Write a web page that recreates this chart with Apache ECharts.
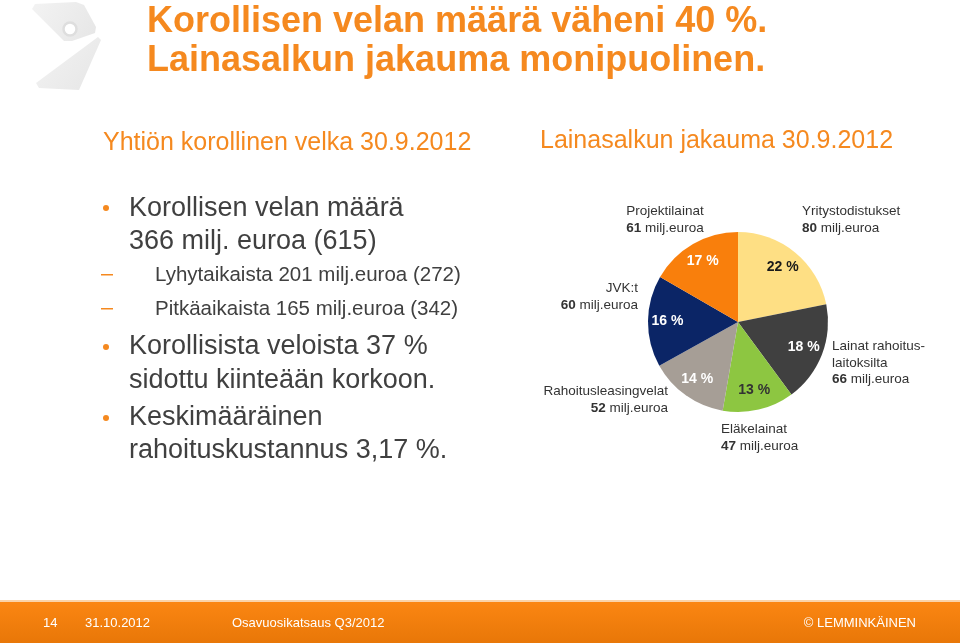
<!DOCTYPE html>
<html><head><meta charset="utf-8">
<script src="https://cdn.jsdelivr.net/npm/echarts@6/dist/echarts.min.js"></script>
<style>html,body{margin:0;padding:0;background:#fff}#c{width:960px;height:643px}</style>
</head><body><div id="c"></div>
<script>
// Data
const categories = ['Yritystodistukset', 'Lainat rahoitus-\nlaitoksilta', 'Eläkelainat', 'Rahoitusleasingvelat', 'JVK:t', 'Projektilainat'];
const values = [80, 66, 47, 52, 60, 61];
const unit = 'milj.euroa';
const sliceColors = ['#FEDF84', '#404040', '#8DC641', '#A69E96', '#0B2566', '#F97F0C'];
const pctColors = ['#1a1a1a', '#ffffff', '#333333', '#ffffff', '#ffffff', '#ffffff'];
const titleLines = ['Korollisen velan määrä väheni 40 %.', 'Lainasalkun jakauma monipuolinen.'];
const leftTitle = 'Yhtiön korollinen velka 30.9.2012';
const rightTitle = 'Lainasalkun jakauma 30.9.2012';
const footerTexts = ['14', '31.10.2012', 'Osavuosikatsaus Q3/2012', '© LEMMINKÄINEN'];

// Layout (styling only)
const labelPos = [
  {x: 802, y: 220, align: 'left'},
  {x: 832, y: 363, align: 'left'},
  {x: 721, y: 438, align: 'left'},
  {x: 668, y: 400, align: 'right'},
  {x: 638, y: 297, align: 'right'},
  {x: 665, y: 220, align: 'center'}
];
const C = [738, 322], R = 90;
const total = values.reduce((a, b) => a + b, 0);

const chart = echarts.init(document.getElementById('c'), null, {renderer: 'canvas'});
const txt = '#404040';
const font = 'Liberation Sans, Arial, sans-serif';
const orange = '#F5891F';

const logoFill = new echarts.graphic.LinearGradient(0, 0, 1, 1, [{offset: 0, color: '#F3F3F3'}, {offset: 1, color: '#E6E6E6'}]);
const graphics = [
  {type: 'polygon', shape: {points: [[35,4],[76,2],[84,5],[96,27],[95,33],[72,41],[64,41],[32,9]]},
   style: {fill: logoFill}, z: -1},
  {type: 'circle', shape: {cx: 70, cy: 29, r: 6.5}, style: {fill: '#fff', stroke: '#DEDEDE', lineWidth: 2.5}, z: 0},
  {type: 'polygon', shape: {points: [[98,37],[101,40],[79,90],[39,88],[36,83]]},
   style: {fill: logoFill}, z: -1},
  {type: 'text', x: 147, y: 3, style: {text: titleLines.join('\n'), font: 'bold 36px ' + font, fill: orange, lineHeight: 39}},
  {type: 'text', x: 103, y: 143, style: {text: leftTitle, font: '25px ' + font, fill: orange, verticalAlign: 'middle'}},
  {type: 'text', x: 540, y: 141, style: {text: rightTitle, font: '25px ' + font, fill: orange, verticalAlign: 'middle'}},
  // bullets
  {type: 'circle', shape: {cx: 106, cy: 208, r: 3}, style: {fill: orange}},
  {type: 'circle', shape: {cx: 106, cy: 347, r: 3}, style: {fill: orange}},
  {type: 'circle', shape: {cx: 106, cy: 418, r: 3}, style: {fill: orange}},
  {type: 'rect', shape: {x: 101, y: 274, width: 12, height: 1.5}, style: {fill: orange}},
  {type: 'rect', shape: {x: 101, y: 308, width: 12, height: 1.5}, style: {fill: orange}},
  {type: 'text', x: 129, y: 209, style: {text: 'Korollisen velan määrä', font: '27px ' + font, fill: txt, verticalAlign: 'middle'}},
  {type: 'text', x: 129, y: 242, style: {text: '366 milj. euroa (615)', font: '27px ' + font, fill: txt, verticalAlign: 'middle'}},
  {type: 'text', x: 155, y: 275, style: {text: 'Lyhytaikaista 201 milj.euroa (272)', font: '20.5px ' + font, fill: txt, verticalAlign: 'middle'}},
  {type: 'text', x: 155, y: 309, style: {text: 'Pitkäaikaista 165 milj.euroa (342)', font: '20.5px ' + font, fill: txt, verticalAlign: 'middle'}},
  {type: 'text', x: 129, y: 347, style: {text: 'Korollisista veloista 37 %', font: '27px ' + font, fill: txt, verticalAlign: 'middle'}},
  {type: 'text', x: 129, y: 381, style: {text: 'sidottu kiinteään korkoon.', font: '27px ' + font, fill: txt, verticalAlign: 'middle'}},
  {type: 'text', x: 129, y: 418, style: {text: 'Keskimääräinen', font: '27px ' + font, fill: txt, verticalAlign: 'middle'}},
  {type: 'text', x: 129, y: 451, style: {text: 'rahoituskustannus 3,17 %.', font: '27px ' + font, fill: txt, verticalAlign: 'middle'}},
  // footer
  {type: 'rect', shape: {x: 0, y: 600, width: 960, height: 2}, style: {fill: '#FBD3A8'}},
  {type: 'rect', shape: {x: 0, y: 602, width: 960, height: 41},
   style: {fill: new echarts.graphic.LinearGradient(0, 0, 0, 1, [{offset: 0, color: '#FB8612'}, {offset: 1, color: '#E87708'}])}},
  {type: 'text', x: 43, y: 623, style: {text: footerTexts[0], font: '13px ' + font, fill: '#fff', verticalAlign: 'middle'}},
  {type: 'text', x: 85, y: 623, style: {text: footerTexts[1], font: '13px ' + font, fill: '#fff', verticalAlign: 'middle'}},
  {type: 'text', x: 232, y: 623, style: {text: footerTexts[2], font: '13px ' + font, fill: '#fff', verticalAlign: 'middle'}},
  {type: 'text', x: 916, y: 623, style: {text: footerTexts[3], font: '13px ' + font, fill: '#fff', verticalAlign: 'middle', align: 'right'}}
];

const transparent = {color: 'rgba(0,0,0,0)', borderWidth: 0};
chart.setOption({
  animation: false,
  graphic: graphics,
  series: [
    {
      type: 'pie', center: C, radius: R, startAngle: 90, clockwise: true, silent: true,
      data: categories.map((n, i) => ({name: n, value: values[i], itemStyle: {color: sliceColors[i]}})),
      itemStyle: {borderWidth: 0},
      label: {show: false}, labelLine: {show: false}
    },
    {
      // percentage labels
      type: 'pie', center: C, radius: [R * 0.5, R], startAngle: 90, clockwise: true, silent: true,
      data: categories.map((n, i) => ({name: n, value: values[i], itemStyle: transparent, label: {color: pctColors[i]}})),
      label: {
        show: true, position: 'inside', fontFamily: font, fontWeight: 'bold', fontSize: 14,
        formatter: p => Math.round(p.value / total * 100) + ' %'
      },
      labelLine: {show: false}
    },
    {
      // category labels
      type: 'pie', center: C, radius: R, startAngle: 90, clockwise: true, silent: true,
      data: categories.map((n, i) => ({name: n, value: values[i], itemStyle: transparent})),
      label: {
        show: true, position: 'inside', color: '#333', fontFamily: font, fontSize: 13.5, lineHeight: 16.5,
        overflow: 'none',
        formatter: p => p.name + '\n{b|' + p.value + '} ' + unit,
        rich: {b: {fontWeight: 'bold', fontFamily: font, fontSize: 13.5, color: '#333', lineHeight: 16.5}}
      },
      labelLine: {show: false},
      labelLayout: p => {
        const lp = labelPos[p.dataIndex];
        return {x: lp.x, y: lp.y, align: lp.align, verticalAlign: 'middle', hideOverlap: false, moveOverlap: false};
      }
    }
  ]
});
</script></body></html>
